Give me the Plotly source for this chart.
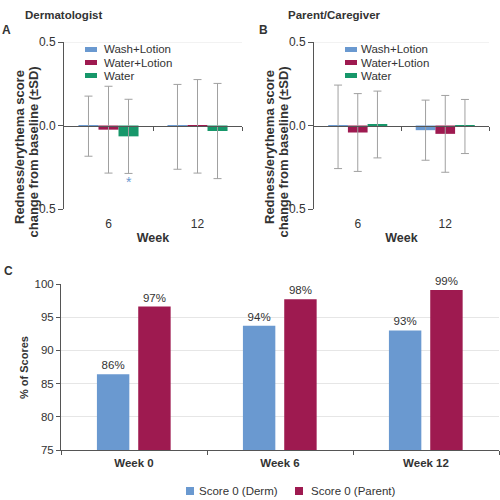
import plotly.graph_objects as go

# ---------------- data ----------------
weeks_ab = ["6", "12"]
series_names = ["Wash+Lotion", "Water+Lotion", "Water"]

derm_wash_mean = [-0.004, -0.008]
derm_wash_sd = [0.18, 0.254]
derm_wl_mean = [-0.025, -0.005]
derm_wl_sd = [0.26, 0.28]
derm_water_mean = [-0.065, -0.033]
derm_water_sd = [0.222, 0.285]

par_wash_mean = [-0.008, -0.028]
par_wash_sd = [0.25, 0.18]
par_wl_mean = [-0.042, -0.05]
par_wl_sd = [0.233, 0.23]
par_water_mean = [0.006, -0.006]
par_water_sd = [0.2, 0.162]

weeks_c = ["Week 0", "Week 6", "Week 12"]
c_names = ["Score 0 (Derm)", "Score 0 (Parent)"]
derm_score0 = [86.4, 93.7, 93.0]
parent_score0 = [96.6, 97.7, 99.1]

# ---------------- style ----------------
FONT = "Liberation Sans, Arial, sans-serif"
TXT = "#333333"
AX = "#555555"
BLUE = "#6A99D0"
RED = "#9E1A50"
GREEN = "#17976A"
ERR = "#A0A0A0"
colors = [BLUE, RED, GREEN]

W = H = 500
def px(x):
    return x / W
def py(y):
    return 1 - y / H

fig = go.Figure()

bw = 0.225
offsets = [-1.5 * bw, -0.5 * bw, 0.5 * bw]

panels = [
    ("x", "y", [derm_wash_mean, derm_wl_mean, derm_water_mean], [derm_wash_sd, derm_wl_sd, derm_water_sd]),
    ("x2", "y2", [par_wash_mean, par_wl_mean, par_water_mean], [par_wash_sd, par_wl_sd, par_water_sd]),
]
for xa, ya, means, sds in panels:
    for name, col, off, m, s in zip(series_names, colors, offsets, means, sds):
        fig.add_trace(go.Bar(
            x=weeks_ab, y=m, name=name, xaxis=xa, yaxis=ya,
            marker=dict(color=col, line=dict(width=0)),
            width=bw, offset=off, showlegend=False,
            error_y=dict(type="data", array=s, visible=True, color=ERR, thickness=1, width=4),
        ))

# invisible helper traces for zero-line axes
fig.add_trace(go.Scatter(x=[0.5], y=[0], xaxis="x4", yaxis="y", mode="markers",
                         marker=dict(opacity=0), showlegend=False, hoverinfo="skip"))
fig.add_trace(go.Scatter(x=[0.5], y=[0], xaxis="x5", yaxis="y2", mode="markers",
                         marker=dict(opacity=0), showlegend=False, hoverinfo="skip"))

cw = 0.222
for name, col, vals, off in zip(c_names, [BLUE, RED], [derm_score0, parent_score0], [-0.254, 0.029]):
    fig.add_trace(go.Bar(
        x=weeks_c, y=vals, name=name, xaxis="x3", yaxis="y3",
        marker=dict(color=col, line=dict(width=0)), width=cw, offset=off,
        texttemplate="%{y:.0f}%", textposition="outside", cliponaxis=False,
        textfont=dict(size=11.5, color=TXT, family=FONT), showlegend=False,
    ))

tickfont = dict(size=12, color=TXT, family=FONT)
boldtitle = dict(size=12.5, color=TXT, family=FONT, weight="bold")

domA = [px(64), px(242)]
domB = [px(314), px(489)]
domAB_y = [py(209), py(42)]
zero_pos = (domAB_y[0] + domAB_y[1]) / 2

def ab_xaxis(dom, anchor):
    return dict(domain=dom, anchor=anchor, type="category", categoryorder="array",
                categoryarray=weeks_ab, range=[-0.5, 1.5], showline=False, ticks="",
                showgrid=False, zeroline=False, tickfont=tickfont, ticklabelstandoff=6,
                automargin=False,
                title=dict(text="Week", font=boldtitle, standoff=3))

def ab_zeroaxis(over):
    return dict(overlaying=over, anchor="free", position=zero_pos, type="linear",
                range=[-0.5, 1.5], tickvals=[0.5, 1.5], ticks="outside", ticklen=4,
                tickcolor=AX, showticklabels=False, showline=True, linecolor=AX,
                linewidth=1, showgrid=False, zeroline=False, automargin=False)

def ab_yaxis(anchor):
    return dict(domain=domAB_y, anchor=anchor, range=[-0.5, 0.5], tickvals=[-0.5, 0, 0.5],
                tickformat=".1f", ticks="outside", ticklen=5, tickcolor=AX, showline=True,
                linecolor=AX, linewidth=1, showgrid=False, zeroline=False, tickfont=tickfont,
                automargin=False)

fig.update_layout(
    width=W, height=H, margin=dict(l=0, r=0, t=0, b=0, autoexpand=False),
    paper_bgcolor="white", plot_bgcolor="white",
    font=dict(family=FONT, color=TXT), barmode="overlay",
    xaxis=ab_xaxis(domA, "y"), xaxis2=ab_xaxis(domB, "y2"),
    xaxis4=ab_zeroaxis("x"), xaxis5=ab_zeroaxis("x2"),
    yaxis=ab_yaxis("x"), yaxis2=ab_yaxis("x2"),
    xaxis3=dict(domain=[px(61), px(499)], anchor="y3", type="category", categoryorder="array",
                categoryarray=weeks_c, range=[-0.5, 2.5], tickson="boundaries", ticks="outside",
                ticklen=4, tickcolor=AX, showline=True, linecolor=AX, showgrid=False,
                tickfont=dict(size=11.5, color=TXT, family=FONT, weight="bold"),
                ticklabelstandoff=2, automargin=False),
    yaxis3=dict(domain=[py(450), py(284)], anchor="x3", range=[75, 100], dtick=5,
                ticks="outside", ticklen=4, tickcolor=AX, showline=True, linecolor=AX,
                showgrid=True, gridcolor="#E6E6E6", zeroline=False, automargin=False,
                tickfont=dict(size=11.5, color=TXT, family=FONT)),
)

shapes = []
# light gridline at 0.5 for A and B
for xr, yr in [("x domain", "y"), ("x2 domain", "y2")]:
    shapes.append(dict(type="line", xref=xr, yref=yr, x0=0, x1=1, y0=0.5, y1=0.5,
                       line=dict(color="#E6E6E6", width=1), layer="below"))

annotations = []
def ann(text, x, y, size=12, bold=False, angle=0, color=TXT, xanchor="center"):
    annotations.append(dict(text=text, x=x, y=y, xref="paper", yref="paper", showarrow=False,
                            xanchor=xanchor, yanchor="middle", textangle=angle,
                            font=dict(size=size, color=color, family=FONT,
                                      weight="bold" if bold else "normal")))

ann("Dermatologist", px(63), py(15), size=11.5, bold=True)
ann("Parent/Caregiver", px(334), py(15), size=11.5, bold=True)
ann("A", px(6), py(30), size=12, bold=True)
ann("B", px(263), py(30), size=12, bold=True)
ann("C", px(8), py(271), size=12, bold=True)

for x1, x2 in [(19, 32.5), (269, 282.5)]:
    ann("Redness/erythema score", px(x1), py(147), size=13, bold=True, angle=-90)
    ann("change from baseline (±SD)", px(x2), py(152), size=13, bold=True, angle=-90)
ann("% of Scores", px(24), py(368), size=11, bold=True, angle=-90)

# legends A and B
for sx, tx in [(85, 102), (345, 359)]:
    for name, col, yy in zip(series_names, colors, [49.5, 62.5, 75.5]):
        shapes.append(dict(type="rect", xref="paper", yref="paper", x0=px(sx), x1=px(sx + 12),
                           y0=py(yy + 2.5), y1=py(yy - 2.5), fillcolor=col, line=dict(width=0)))
        ann(name, px(tx), py(yy), size=11.5, xanchor="left")

# legend C
for name, col, sx, tx in zip(c_names, [BLUE, RED], [186, 295], [197, 309]):
    shapes.append(dict(type="rect", xref="paper", yref="paper", x0=px(sx), x1=px(sx + 8),
                       y0=py(495), y1=py(487), fillcolor=col, line=dict(width=0)))
    ann(name, px(tx), py(491), size=11.5, xanchor="left")

# significance asterisk
annotations.append(dict(text="*", x=0.5 * bw + bw / 2, y=-0.34, xref="x", yref="y",
                        showarrow=False, font=dict(size=14, color=BLUE, family=FONT)))

fig.update_layout(shapes=shapes, annotations=annotations)
fig.write_html(
    "out.html",
    config={"displayModeBar": False},
    post_script="document.body.style.margin='0px';document.documentElement.style.overflow='hidden';document.body.style.overflow='hidden';",
)
